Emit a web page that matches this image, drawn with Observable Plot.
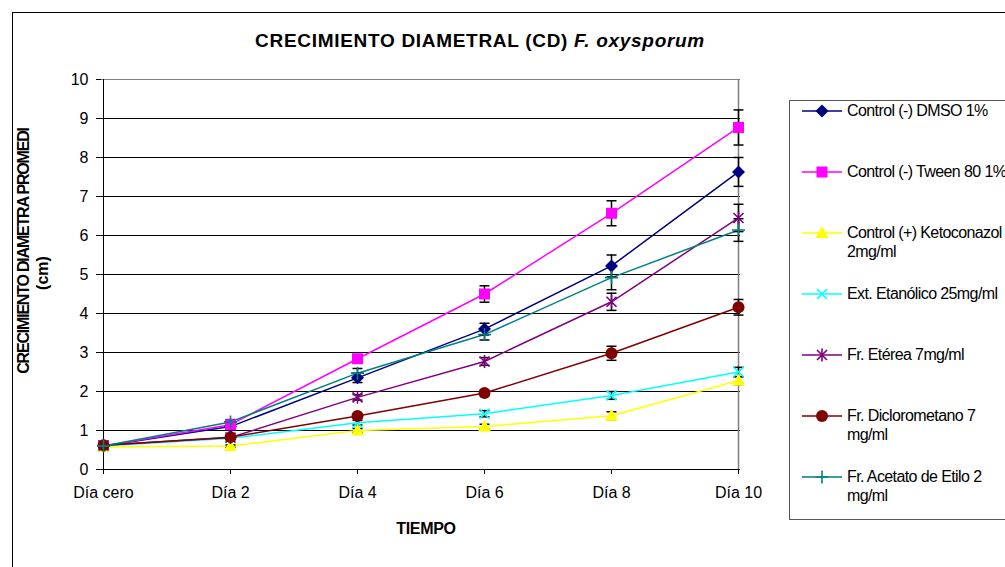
<!DOCTYPE html>
<html>
<head>
<meta charset="utf-8">
<script src="https://cdn.jsdelivr.net/npm/d3@7"></script>
<script src="https://cdn.jsdelivr.net/npm/@observablehq/plot@0.6"></script>
<style>
  html, body { margin: 0; padding: 0; background: #fff; overflow: hidden; }
  #wrap { position: relative; width: 1005px; height: 567px; overflow: hidden; font-family: "Liberation Sans", Arial, sans-serif; color: #000; }
  #border { position: absolute; left: 12px; top: 12px; width: 1100px; height: 700px; border: 1px solid #000; box-sizing: border-box; }
  #title { position: absolute; left: 0; width: 960px; top: 30px; text-align: center; font-size: 19px; line-height: 22px; font-weight: bold; letter-spacing: 0.7px; white-space: nowrap; }
  #plot { position: absolute; left: 0; top: 0; }
  #legend { position: absolute; left: 789px; top: 100px; width: 300px; height: 420px; border: 1px solid #555; box-sizing: border-box; }
  .lg-text { position: absolute; left: 847px; font-size: 16px; line-height: 19px; letter-spacing: -0.6px; white-space: nowrap; }
  .lg-sym { position: absolute; left: 800px; }
  #overlay { position: absolute; left: 0; top: 0; }
</style>
</head>
<body>
<div id="wrap">
  <div id="border"></div>
  <div id="title">CRECIMIENTO DIAMETRAL (CD) <i>F. oxysporum</i></div>
  <div id="plot"></div>
  <div id="legend"></div>
  <svg id="overlay" width="1005" height="567"></svg>
</div>
<script>
// ---- Data ----
const days = ["Día cero", "Día 2", "Día 4", "Día 6", "Día 8", "Día 10"];
const yTicks = [0, 1, 2, 3, 4, 5, 6, 7, 8, 9, 10];
const seriesNames = [
  "Control (-) DMSO 1%",
  "Control (-) Tween 80 1%",
  "Control (+) Ketoconazol 2mg/ml",
  "Ext. Etanólico 25mg/ml",
  "Fr. Etérea 7mg/ml",
  "Fr. Diclorometano 7 mg/ml",
  "Fr. Acetato de Etilo 2 mg/ml"
];
const legendLines = [
  ["Control (-) DMSO 1%"],
  ["Control (-) Tween 80 1%"],
  ["Control (+) Ketoconazol", "2mg/ml"],
  ["Ext. Etanólico 25mg/ml"],
  ["Fr. Etérea 7mg/ml"],
  ["Fr. Diclorometano 7", "mg/ml"],
  ["Fr. Acetato de Etilo 2", "mg/ml"]
];
const colors = ["#000080", "#FF00FF", "#FFFF00", "#00FFFF", "#800080", "#800000", "#008080"];

const dmso      = [0.60, 1.10, 2.35, 3.60, 5.22, 7.63];
const dmsoErr   = [0, 0.05, 0.12, 0.15, 0.28, 0.37];
const tween     = [0.60, 1.15, 2.84, 4.50, 6.57, 8.77];
const tweenErr  = [0, 0.06, 0.08, 0.21, 0.32, 0.45];
const keto      = [0.58, 0.60, 1.00, 1.10, 1.38, 2.28];
const ketoErr   = [0, 0.03, 0.05, 0.06, 0.10, 0.10];
const etanol    = [0.60, 0.80, 1.20, 1.43, 1.90, 2.50];
const etanolErr = [0, 0.03, 0.06, 0.08, 0.10, 0.12];
const eterea    = [0.62, 0.82, 1.85, 2.77, 4.30, 6.45];
const etereaErr = [0, 0.04, 0.07, 0.10, 0.22, 0.35];
const diclo     = [0.62, 0.83, 1.37, 1.96, 2.98, 4.16];
const dicloErr  = [0, 0.04, 0.06, 0.07, 0.18, 0.20];
const acetato   = [0.60, 1.22, 2.47, 3.46, 4.92, 6.14];
const acetErr   = [0, 0.06, 0.12, 0.14, 0.31, 0.29];

const values = [dmso, tween, keto, etanol, eterea, diclo, acetato];
const errors = [dmsoErr, tweenErr, ketoErr, etanolErr, etereaErr, dicloErr, acetErr];

const rows = [];
seriesNames.forEach((s, i) => days.forEach((d, j) => rows.push({series: s, idx: i, day: d, value: values[i][j], err: errors[i][j]})));
const errRows = rows.filter(r => r.err > 0);

// ---- Marker symbols (style) ----
const sym = {
  diamond: {draw(c) { const r = 6.5; c.moveTo(0, -r); c.lineTo(r, 0); c.lineTo(0, r); c.lineTo(-r, 0); c.closePath(); }},
  square: {draw(c) { const r = 5.5; c.moveTo(-r, -r); c.lineTo(r, -r); c.lineTo(r, r); c.lineTo(-r, r); c.closePath(); }},
  triangle: {draw(c) { c.moveTo(0, -7); c.lineTo(6.5, 5); c.lineTo(-6.5, 5); c.closePath(); }},
  times: {draw(c) { const r = 5; c.moveTo(-r, -r); c.lineTo(r, r); c.moveTo(-r, r); c.lineTo(r, -r); }},
  star: {draw(c) { const r = 5; c.moveTo(-r, -r); c.lineTo(r, r); c.moveTo(-r, r); c.lineTo(r, -r); c.moveTo(0, -6.5); c.lineTo(0, 6.5); }},
  circle: {draw(c) { c.moveTo(6, 0); c.arc(0, 0, 6, 0, 2 * Math.PI); c.closePath(); }},
  plus: {draw(c) { const r = 6.5; c.moveTo(-r, 0); c.lineTo(r, 0); c.moveTo(0, -r); c.lineTo(0, r); }},
  cap: {draw(c) { c.moveTo(-5, 0); c.lineTo(5, 0); }}
};
const markerSyms = [sym.diamond, sym.square, sym.triangle, sym.times, sym.star, sym.circle, sym.plus];
const filled = [true, true, true, false, false, true, false];

// ---- Chart ----
const marks = [
  Plot.gridY({ticks: yTicks.filter(t => t > 0 && t < 10), stroke: "#000", strokeOpacity: 1, strokeWidth: 1}),
  Plot.ruleY([10], {stroke: "#808080", strokeWidth: 1}),
  Plot.ruleX([days[days.length - 1]], {stroke: "#808080", strokeWidth: 1.5}),
  Plot.axisY({ticks: yTicks, tickSize: 5, tickPadding: 8, fontSize: 16, label: null, tickFormat: d => String(d)}),
  Plot.axisX({tickSize: 5, tickPadding: 12, fontSize: 16, label: null}),
  Plot.ruleX([days[0]], {stroke: "#000", strokeWidth: 1}),
  Plot.ruleY([0], {stroke: "#000", strokeWidth: 1}),
  Plot.line(rows, {x: "day", y: "value", z: "series", stroke: "series", strokeWidth: 1.5}),
  Plot.ruleX(errRows, {x: "day", y1: d => d.value - d.err, y2: d => d.value + d.err, stroke: "#000", strokeWidth: 1.5}),
  Plot.dot(errRows, {x: "day", y: d => d.value + d.err, symbol: sym.cap, stroke: "#000", strokeWidth: 1.5}),
  Plot.dot(errRows, {x: "day", y: d => d.value - d.err, symbol: sym.cap, stroke: "#000", strokeWidth: 1.5})
];
seriesNames.forEach((s, i) => {
  const data = rows.filter(r => r.idx === i);
  marks.push(Plot.dot(data, filled[i]
    ? {x: "day", y: "value", symbol: markerSyms[i], fill: colors[i], stroke: "none", r: 5}
    : {x: "day", y: "value", symbol: markerSyms[i], fill: "none", stroke: colors[i], strokeWidth: 1.6, r: 5}));
});

const chart = Plot.plot({
  width: 1005,
  height: 567,
  marginLeft: 101,
  marginRight: 265,
  marginTop: 79,
  marginBottom: 98,
  style: {fontFamily: "'Liberation Sans', Arial, sans-serif", fontSize: "16px", background: "transparent", color: "#000"},
  x: {type: "point", domain: days, padding: 0},
  y: {domain: [0, 10]},
  color: {domain: seriesNames, range: colors},
  marks
});
document.getElementById("plot").appendChild(chart);

// ---- Legend ----
const wrap = document.getElementById("wrap");
legendLines.forEach((lines, i) => {
  const cy = 111 + i * 61;
  const svgNS = "http://www.w3.org/2000/svg";
  const s = document.createElementNS(svgNS, "svg");
  s.setAttribute("class", "lg-sym");
  s.setAttribute("width", 46);
  s.setAttribute("height", 20);
  s.style.top = (cy - 10) + "px";
  const ln = document.createElementNS(svgNS, "line");
  ln.setAttribute("x1", 2); ln.setAttribute("x2", 42); ln.setAttribute("y1", 10); ln.setAttribute("y2", 10);
  ln.setAttribute("stroke", colors[i]); ln.setAttribute("stroke-width", 1.5);
  s.appendChild(ln);
  const p = d3.path();
  markerSyms[i].draw(p, 0);
  const path = document.createElementNS(svgNS, "path");
  path.setAttribute("d", p.toString());
  path.setAttribute("transform", "translate(22,10)");
  if (filled[i]) { path.setAttribute("fill", colors[i]); }
  else { path.setAttribute("fill", "none"); path.setAttribute("stroke", colors[i]); path.setAttribute("stroke-width", 1.6); }
  s.appendChild(path);
  wrap.appendChild(s);
  const t = document.createElement("div");
  t.className = "lg-text";
  t.style.top = (cy - 10) + "px";
  t.innerHTML = lines.join("<br>");
  wrap.appendChild(t);
});

// ---- Axis titles ----
const ov = d3.select("#overlay");
ov.append("text")
  .attr("transform", "translate(29,251) rotate(-90)")
  .attr("text-anchor", "middle")
  .attr("font-family", "'Liberation Sans', Arial, sans-serif")
  .attr("font-weight", "bold").attr("font-size", 16).attr("letter-spacing", -1.2)
  .text("CRECIMIENTO DIAMETRA PROMEDI");
ov.append("text")
  .attr("transform", "translate(47.5,273) rotate(-90)")
  .attr("text-anchor", "middle")
  .attr("font-family", "'Liberation Sans', Arial, sans-serif")
  .attr("font-weight", "bold").attr("font-size", 16)
  .text("(cm)");
ov.append("text")
  .attr("x", 426).attr("y", 534)
  .attr("text-anchor", "middle")
  .attr("font-family", "'Liberation Sans', Arial, sans-serif")
  .attr("font-weight", "bold").attr("font-size", 16).attr("letter-spacing", -0.3)
  .text("TIEMPO");
</script>
</body>
</html>
